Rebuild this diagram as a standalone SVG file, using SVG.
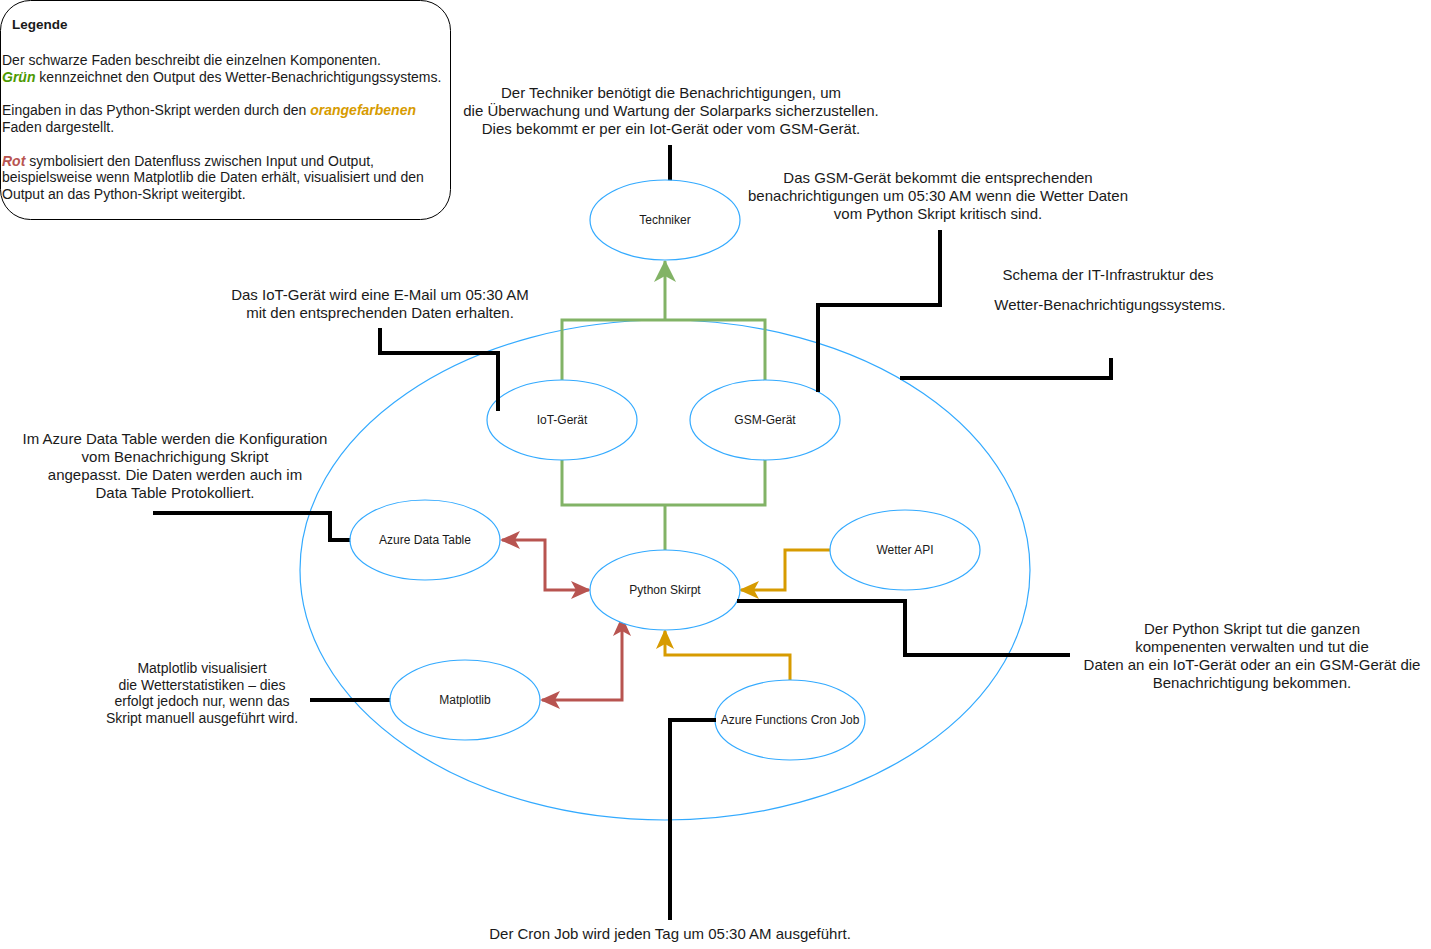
<svg xmlns="http://www.w3.org/2000/svg" width="1431" height="949" viewBox="0 0 1431 949">
<style>
text{font-family:"Liberation Sans",Arial,sans-serif;fill:#1a1a1a}
.lg{font-size:14px}
.an{font-size:15px;text-anchor:middle}
.sm{font-size:14px}
.nl{font-size:12px;text-anchor:middle}
.node{fill:#fff;stroke:#33aaff;stroke-width:1.2}
.blk{fill:none;stroke:#000;stroke-width:4}
.grn{fill:none;stroke:#82b366;stroke-width:3}
.red{fill:none;stroke:#b85450;stroke-width:3}
.org{fill:none;stroke:#d79b00;stroke-width:3}
</style>
<defs>
<marker id="ar" viewBox="0 0 20 20" refX="18" refY="10" markerWidth="20" markerHeight="20" markerUnits="userSpaceOnUse" orient="auto"><path d="M0,1 L20,10 L0,19 L5,10 Z" fill="#b85450"/></marker>
<marker id="ars" viewBox="0 0 20 20" refX="18" refY="10" markerWidth="20" markerHeight="20" markerUnits="userSpaceOnUse" orient="auto-start-reverse"><path d="M0,1 L20,10 L0,19 L5,10 Z" fill="#b85450"/></marker>
<marker id="ao" viewBox="0 0 20 20" refX="18" refY="10" markerWidth="20" markerHeight="20" markerUnits="userSpaceOnUse" orient="auto"><path d="M0,1 L20,10 L0,19 L5,10 Z" fill="#d79b00"/></marker>
<marker id="agr" viewBox="0 0 22 22" refX="21" refY="11" markerWidth="22" markerHeight="22" markerUnits="userSpaceOnUse" orient="auto"><path d="M0,0 L22,11 L0,22 L6,11 Z" fill="#82b366"/></marker>
</defs>

<g id="legend">
<rect x="0.5" y="0.5" width="450" height="219" rx="30" ry="30" fill="#fff" stroke="#000" stroke-width="1"/>
<text x="12" y="29" style="font-size:13.5px;font-weight:bold">Legende</text>
<text class="lg" x="2" y="65">Der schwarze Faden beschreibt die einzelnen Komponenten.</text>
<text class="lg" x="2" y="82"><tspan style="fill:#4d9900;font-weight:bold;font-style:italic">Grün</tspan> kennzeichnet den Output des Wetter-Benachrichtigungssystems.</text>
<text class="lg" x="2" y="115">Eingaben in das Python-Skript werden durch den <tspan style="fill:#d79b00;font-weight:bold;font-style:italic">orangefarbenen</tspan></text>
<text class="lg" x="2" y="132">Faden dargestellt.</text>
<text class="lg" x="2" y="166"><tspan style="fill:#b85450;font-weight:bold;font-style:italic">Rot</tspan> symbolisiert den Datenfluss zwischen Input und Output,</text>
<text class="lg" x="2" y="182">beispielsweise wenn Matplotlib die Daten erhält, visualisiert und den</text>
<text class="lg" x="2" y="199">Output an das Python-Skript weitergibt.</text>
</g>

<g id="system-boundary">
<ellipse cx="665" cy="570" rx="365" ry="250" fill="none" stroke="#33aaff" stroke-width="1.2"/>
</g>

<g id="annotations">
<text class="an" x="671" y="98">Der Techniker benötigt die Benachrichtigungen, um</text>
<text class="an" x="671" y="116">die Überwachung und Wartung der Solarparks sicherzustellen.</text>
<text class="an" x="671" y="134">Dies bekommt er per ein Iot-Gerät oder vom GSM-Gerät.</text>
<text class="an" x="938" y="183">Das GSM-Gerät bekommt die entsprechenden</text>
<text class="an" x="938" y="201">benachrichtigungen um 05:30 AM wenn die Wetter Daten</text>
<text class="an" x="938" y="219">vom Python Skript kritisch sind.</text>
<text class="an" x="1108" y="280">Schema der IT-Infrastruktur des</text>
<text class="an" x="1110" y="310">Wetter-Benachrichtigungssystems.</text>
<text class="an" x="380" y="300">Das IoT-Gerät wird eine E-Mail um 05:30 AM</text>
<text class="an" x="380" y="318">mit den entsprechenden Daten erhalten.</text>
<text class="an" x="175" y="444">Im Azure Data Table werden die Konfiguration</text>
<text class="an" x="175" y="462">vom Benachrichigung Skript</text>
<text class="an" x="175" y="480">angepasst. Die Daten werden auch im</text>
<text class="an" x="175" y="498">Data Table Protokolliert.</text>
<text class="an sm" x="202" y="673">Matplotlib visualisiert</text>
<text class="an sm" x="202" y="690">die Wetterstatistiken – dies</text>
<text class="an sm" x="202" y="706">erfolgt jedoch nur, wenn das</text>
<text class="an sm" x="202" y="723">Skript manuell ausgeführt wird.</text>
<text class="an" x="1252" y="634">Der Python Skript tut die ganzen</text>
<text class="an" x="1252" y="652">kompenenten verwalten und tut die</text>
<text class="an" x="1252" y="670">Daten an ein IoT-Gerät oder an ein GSM-Gerät die</text>
<text class="an" x="1252" y="688">Benachrichtigung bekommen.</text>
<text class="an" x="670" y="939">Der Cron Job wird jeden Tag um 05:30 AM ausgeführt.</text>
</g>

<g id="connectors">
<path class="blk" d="M670,145 V181"/>
<path class="blk" d="M380,328 V353 H498 V411"/>
<path class="blk" d="M940,230 V305 H818 V392"/>
<path class="blk" d="M900,378 H1111 V358"/>
<path class="blk" d="M153,513 H330 V540 H351"/>
<path class="blk" d="M737,601 H905 V655 H1070"/>
<path class="blk" d="M310,700 H391"/>
<path class="blk" d="M670,920 V720 H716"/>

<path class="grn" d="M562,380 V320 H765 V380"/>
<path class="grn" d="M665,320 V261" marker-end="url(#agr)"/>
<path class="grn" d="M562,460 V505 H765 V460"/>
<path class="grn" d="M665,505 V550"/>

<path class="red" d="M502,540 H545 V590 H589" marker-start="url(#ars)" marker-end="url(#ar)"/>
<path class="red" d="M542,700 H622 V618" marker-start="url(#ars)" marker-end="url(#ar)"/>

<path class="org" d="M830,550 H785 V590 H741" marker-end="url(#ao)"/>
<path class="org" d="M790,680 V655 H665 V631" marker-end="url(#ao)"/>
</g>

<g id="node-techniker"><ellipse class="node" cx="665" cy="220" rx="75" ry="40"/><text class="nl" x="665" y="224">Techniker</text></g>
<g id="node-iot"><ellipse class="node" cx="562" cy="420" rx="75" ry="40"/><text class="nl" x="562" y="424">IoT-Gerät</text></g>
<g id="node-gsm"><ellipse class="node" cx="765" cy="420" rx="75" ry="40"/><text class="nl" x="765" y="424">GSM-Gerät</text></g>
<g id="node-azure-data-table"><ellipse class="node" cx="425" cy="540" rx="75" ry="40"/><text class="nl" x="425" y="544">Azure Data Table</text></g>
<g id="node-python"><ellipse class="node" cx="665" cy="590" rx="75" ry="40"/><text class="nl" x="665" y="594">Python Skirpt</text></g>
<g id="node-wetter-api"><ellipse class="node" cx="905" cy="550" rx="75" ry="40"/><text class="nl" x="905" y="554">Wetter API</text></g>
<g id="node-matplotlib"><ellipse class="node" cx="465" cy="700" rx="75" ry="40"/><text class="nl" x="465" y="704">Matplotlib</text></g>
<g id="node-cron"><ellipse class="node" cx="790" cy="720" rx="75" ry="40"/><text class="nl" x="790" y="724">Azure Functions Cron Job</text></g>

<g id="connector-overlays">
<path class="blk" d="M498,395 V411"/>
<path class="blk" d="M818,380 V392"/>
<path class="blk" d="M737,601 H745"/>
<path class="blk" d="M700,720 H716"/>
</g>
</svg>
